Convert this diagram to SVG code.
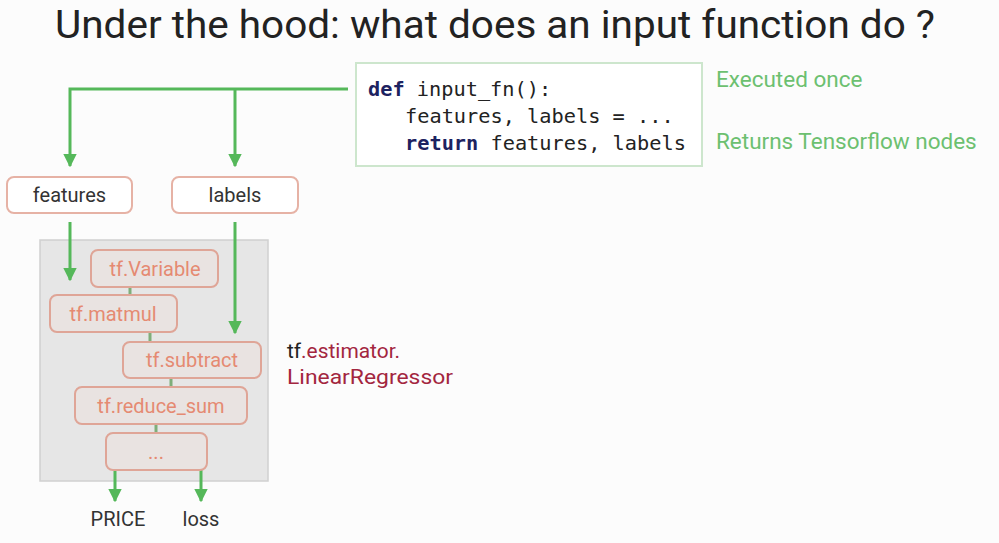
<svg xmlns="http://www.w3.org/2000/svg" width="999" height="543" viewBox="0 0 999 543">
<defs>
<marker id="ah" viewBox="0 0 10 10" refX="9" refY="5" markerWidth="4.5" markerHeight="4.5" orient="auto" markerUnits="strokeWidth">
<path d="M0,0 L10,5 L0,10 z" fill="#55b85a"/>
</marker>
<style>
.t{font-family:Roboto,"Liberation Sans",sans-serif}
.box{fill:#ffffff;stroke:#e6b2a5;stroke-width:2}
.obox{fill:#e9e3e1;stroke:#dfa597;stroke-width:2}
.otx{font-family:Roboto,"Liberation Sans",sans-serif;font-size:20px;fill:#e58a72;text-anchor:middle}
.ntx{font-family:Roboto,"Liberation Sans",sans-serif;font-size:20px;fill:#333;text-anchor:middle}
.g{stroke:#55b85a;stroke-width:3;fill:none}
.s{stroke:#7fae7a;stroke-width:3;fill:none}
.code{font-family:"DejaVu Sans Mono","Liberation Mono",monospace;font-size:20.3px;fill:#222}
.kw{font-weight:bold;fill:#1c2260}
.gl{font-family:Roboto,"Liberation Sans",sans-serif;font-size:22.5px;fill:#6cc070}
</style>
</defs>
<rect width="999" height="543" fill="#fcfcfc"/>
<text class="t" x="55" y="38" font-size="38" fill="#222" textLength="880" lengthAdjust="spacingAndGlyphs">Under the hood: what does an input function do ?</text>

<g id="code">
<rect x="356" y="63" width="346" height="103" fill="#ffffff" stroke="#cde6cd" stroke-width="2"/>
<text class="code" x="368" y="96"><tspan class="kw">def</tspan> input_fn():</text>
<text class="code" x="405" y="123">features, labels = ...</text>
<text class="code" x="405" y="150"><tspan class="kw">return</tspan> features, labels</text>
</g>
<g id="notes">
<text class="gl" x="716" y="87">Executed once</text>
<text class="gl" x="716" y="149">Returns Tensorflow nodes</text>
</g>

<g id="panel">
<rect x="40" y="240" width="228" height="241" fill="#e6e6e6" stroke="#d0d0d0" stroke-width="1.5"/>
</g>

<g id="connectors">
<path class="g" d="M348,89 H70 V166" marker-end="url(#ah)"/>
<path class="g" d="M235,89 V166" marker-end="url(#ah)"/>
<path class="g" d="M70,222 V280" marker-end="url(#ah)"/>
<path class="g" d="M235,222 V333" marker-end="url(#ah)"/>
<path class="g" d="M115,470 V501" marker-end="url(#ah)"/>
<path class="g" d="M201,470 V501" marker-end="url(#ah)"/>
<path class="s" d="M130,287 V295"/>
<path class="s" d="M150,332 V342"/>
<path class="s" d="M171,378 V387"/>
<path class="s" d="M156,424 V433"/>
</g>

<g id="features">
<rect class="box" x="7" y="177" width="125" height="36" rx="7"/>
<text class="ntx" x="69.5" y="202">features</text>
</g>
<g id="labels">
<rect class="box" x="172" y="177" width="126" height="36" rx="7"/>
<text class="ntx" x="235" y="202">labels</text>
</g>
<g id="tf-variable">
<rect class="obox" x="91" y="250" width="127" height="37" rx="7"/>
<text class="otx" x="155" y="276">tf.Variable</text>
</g>
<g id="tf-matmul">
<rect class="obox" x="50" y="295" width="127" height="37" rx="7"/>
<text class="otx" x="113" y="321">tf.matmul</text>
</g>
<g id="tf-subtract">
<rect class="obox" x="123" y="342" width="138" height="36" rx="7"/>
<text class="otx" x="192" y="367">tf.subtract</text>
</g>
<g id="tf-reduce-sum">
<rect class="obox" x="75" y="387" width="172" height="37" rx="7"/>
<text class="otx" x="161" y="413">tf.reduce_sum</text>
</g>
<g id="ellipsis">
<rect class="obox" x="106" y="433" width="101" height="37" rx="7"/>
<text class="otx" x="156" y="459" font-size="14">...</text>
</g>
<g id="estimator-label">
<text class="t" x="287" y="358" font-size="21" fill="#a3263f" textLength="113" lengthAdjust="spacingAndGlyphs"><tspan fill="#222">tf</tspan>.estimator.</text>
<text class="t" x="287" y="384" font-size="21" fill="#a3263f" textLength="166" lengthAdjust="spacingAndGlyphs">LinearRegressor</text>
</g>
<g id="outputs">
<text class="ntx" x="118" y="526">PRICE</text>
<text class="ntx" x="201" y="526">loss</text>
</g>
</svg>
